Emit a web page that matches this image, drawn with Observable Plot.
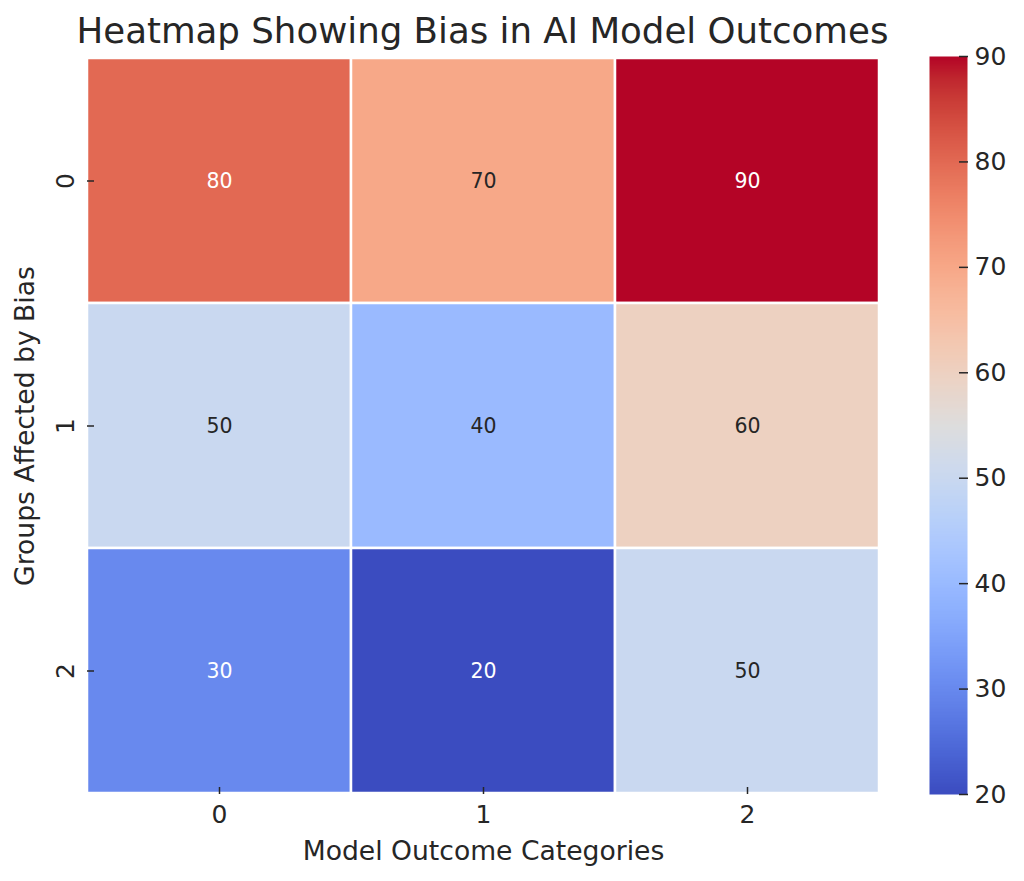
<!DOCTYPE html>
<html><head><meta charset="utf-8">
<script src="https://cdn.jsdelivr.net/npm/d3@7"></script>
<script src="https://cdn.jsdelivr.net/npm/@observablehq/plot@0.6"></script>
<style>
body{margin:0;background:#fff;}
#wrap{position:relative;width:1024px;height:881px;font-family:"DejaVu Sans",sans-serif;color:#262626;overflow:hidden;background:#fff;}
#title{position:absolute;left:0;width:965px;top:13px;text-align:center;font-size:35.6px;line-height:35px;white-space:nowrap;}
#main{position:absolute;left:0;top:0;}
#cbar{position:absolute;left:929px;top:0;}
</style></head><body>
<div id="wrap"><div id="title"></div><div id="main"></div><div id="cbar"></div></div>
<script>
// ---- data ----
const groups = [0, 1, 2];            // rows (y)
const outcomes = [0, 1, 2];          // columns (x)
const row0 = [80, 70, 90];
const row1 = [50, 40, 60];
const row2 = [30, 20, 50];
const colorTicks = [20, 30, 40, 50, 60, 70, 80, 90];
const colorDomain = [20, 90];
const titleText = "Heatmap Showing Bias in AI Model Outcomes";
const xLabel = "Model Outcome Categories";
const yLabel = "Groups Affected by Bias";

// ---- style: matplotlib "coolwarm" colormap stops ----
const coolwarmStops = ["#3b4cc0","#445acc","#4d68d7","#5775e1","#6282ea","#6c8ef1","#779af7","#82a5fb","#8db0fe","#98b9ff","#a3c2ff","#aec9fd","#b8d0f9","#c2d5f4","#ccd9ee","#d5dbe6","#dddddd","#e5d8d1","#ecd3c5","#f1ccb8","#f5c4ac","#f7bb9f","#f7b193","#f7a686","#f49a7b","#f18d6f","#ec7f63","#e57058","#de604d","#d55042","#cb3e38","#c0282f","#b40426"];
const coolwarm = d3.piecewise(d3.interpolateRgb, coolwarmStops);

const matrix = [row0, row1, row2];
const cells = groups.flatMap((g, i) => outcomes.map((o, j) => ({group: g, outcome: o, value: matrix[i][j]})));

function luminance(c) {
  const rgb = d3.rgb(c);
  const f = x => { x /= 255; return x <= 0.03928 ? x / 12.92 : Math.pow((x + 0.055) / 1.055, 2.4); };
  return 0.2126 * f(rgb.r) + 0.7152 * f(rgb.g) + 0.0722 * f(rgb.b);
}
const cellColor = v => coolwarm((v - colorDomain[0]) / (colorDomain[1] - colorDomain[0]));
const isLight = d => luminance(cellColor(d.value)) > 0.408;

document.getElementById("title").textContent = titleText;

const font = "DejaVu Sans";

const main = Plot.plot({
  width: 900, height: 881,
  marginLeft: 87, marginRight: 21, marginTop: 57, marginBottom: 87,
  style: {fontFamily: font, color: "#262626", background: "transparent", fontSize: "25px"},
  x: {type: "band", domain: outcomes, padding: 0},
  y: {type: "band", domain: groups, padding: 0},
  color: {type: "linear", domain: colorDomain, interpolate: coolwarm},
  marks: [
    Plot.cell(cells, {x: "outcome", y: "group", fill: "value", stroke: "white", strokeWidth: 2.5}),
    Plot.text(cells.filter(isLight), {x: "outcome", y: "group", text: d => String(d.value), fill: "#262626", fontSize: 20.5}),
    Plot.text(cells.filter(d => !isLight(d)), {x: "outcome", y: "group", text: d => String(d.value), fill: "white", fontSize: 20.5}),
    Plot.axisX({tickSize: -7, tickPadding: 18, fontSize: 25, strokeWidth: 1.5, label: xLabel, labelAnchor: "center", labelOffset: 65}),
    Plot.axisY({tickSize: -7, tickPadding: 21, tickRotate: -90, fontSize: 25, strokeWidth: 1.5, label: yLabel, labelAnchor: "center", labelOffset: 72})
  ]
});
main.querySelectorAll("[aria-label$='axis label'] text").forEach(t => t.setAttribute("font-size", "26.6"));
document.getElementById("main").appendChild(main);

const cbar = Plot.plot({
  width: 95, height: 881,
  marginLeft: 0, marginRight: 57, marginTop: 56, marginBottom: 87,
  style: {fontFamily: font, color: "#262626", background: "transparent", fontSize: "25px"},
  x: {domain: [0, 1], axis: null},
  y: {domain: colorDomain},
  color: {type: "linear", domain: colorDomain, interpolate: coolwarm},
  marks: [
    Plot.raster({x1: 0, x2: 1, y1: colorDomain[0], y2: colorDomain[1], width: 1, height: 256, fill: (x, y) => y}),
    Plot.axisY(colorTicks, {anchor: "right", tickSize: -9, tickPadding: 16, fontSize: 25, strokeWidth: 1.5, label: null})
  ]
});
document.getElementById("cbar").appendChild(cbar);
</script>
</body></html>
